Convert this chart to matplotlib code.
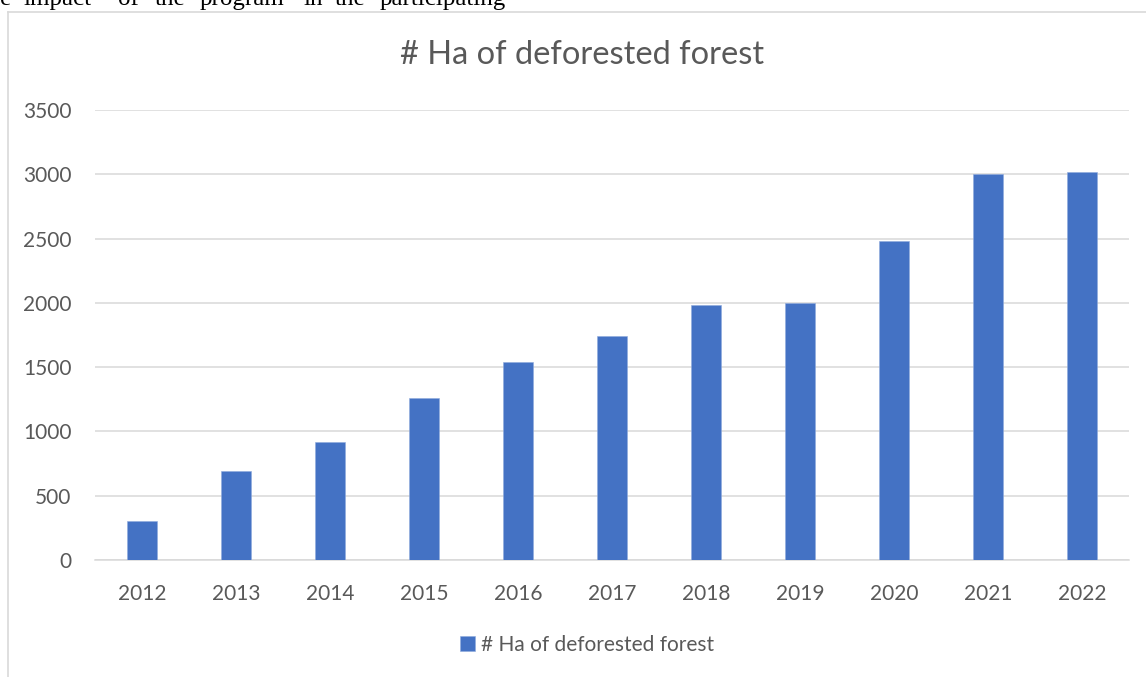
import matplotlib.pyplot as plt
from matplotlib.lines import Line2D

# data
years = ['2012', '2013', '2014', '2015', '2016', '2017', '2018', '2019', '2020', '2021', '2022']
hectares = [300, 690, 920, 1260, 1540, 1740, 1985, 2000, 2480, 3005, 3015]
series_name = '# Ha of deforested forest'
yticks = [0, 500, 1000, 1500, 2000, 2500, 3000, 3500]

# cut-off line of document text above the chart
doc_words = ['e', 'impact', 'of', 'the', 'program', 'in', 'the', 'participating']
doc_word_x = [0, 23, 118, 155, 200, 303, 335, 380]

W, H = 1146, 677
grey = '#595959'
grid = '#d9d9d9'
blue = '#4472C4'

plt.rcParams['font.family'] = ['Lato', 'DejaVu Sans']

fig = plt.figure(figsize=(W / 100, H / 100), dpi=100)
ax = fig.add_axes([95 / W, 1 - 560 / H, (1129 - 95) / W, (560 - 110) / H])

x = list(range(len(years)))
bars = ax.bar(x, hectares, width=0.313, color=blue, edgecolor='#8faadc', linewidth=0.4,
              label=series_name, zorder=3)

ax.set_xlim(-0.5, len(years) - 0.5)
ax.set_ylim(0, 3500)
ax.set_yticks(yticks)
ax.set_xticks(x)
ax.set_xticklabels(years)
ax.tick_params(axis='both', length=0, labelsize=15, colors=grey)
ax.tick_params(axis='y', pad=17)
ax.tick_params(axis='x', pad=17)
ax.grid(axis='y', color=grid, linewidth=1.1, zorder=0)
for s in ['top', 'left', 'right']:
    ax.spines[s].set_visible(False)
ax.spines['bottom'].set_color(grid)
ax.spines['bottom'].set_linewidth(1.1)

fig.text(582 / W, 1 - 55 / H, series_name, ha='center', va='center', fontsize=23.5, color=grey)

leg = fig.legend(handles=[bars], labels=[series_name], loc='center', bbox_to_anchor=(587 / W, 1 - 645 / H),
                 frameon=False, fontsize=15, handlelength=0.7, handleheight=0.7, handletextpad=0.3,
                 labelcolor=grey)

# chart frame (left and top edges visible)
fig.add_artist(Line2D([7.5 / W, 7.5 / W], [0, 1 - 11.5 / H], transform=fig.transFigure, color=grid, lw=1.2))
fig.add_artist(Line2D([7.5 / W, 1], [1 - 11.5 / H, 1 - 11.5 / H], transform=fig.transFigure, color=grid, lw=1.2))

for w, px in zip(doc_words, doc_word_x):
    fig.text(px / W, 1 - 5 / H, w, ha='left', va='baseline', fontsize=18,
             family='Liberation Serif', color='black')

fig.savefig('out.png', dpi=100, facecolor='white')
